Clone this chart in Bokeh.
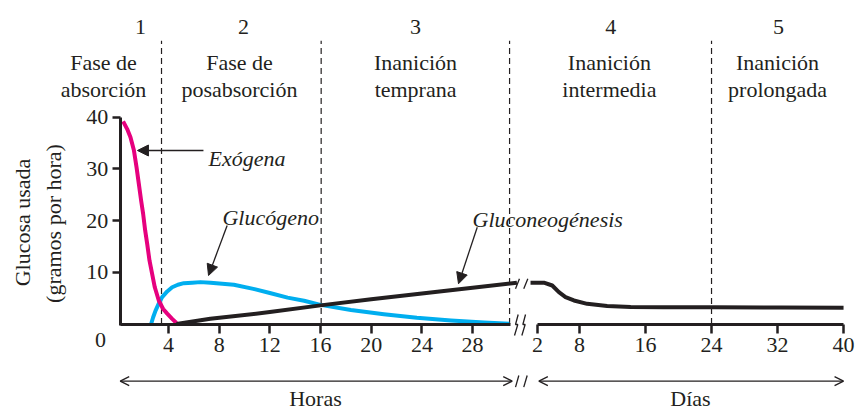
import math
import numpy as np
from bokeh.plotting import figure
from bokeh.models import (Label, Arrow, NormalHead, OpenHead, FixedTicker,
                          Range1d, LinearAxis)
from bokeh.embed import file_html
from bokeh.resources import INLINE

# ---------------- data ----------------
exo_hours = [0.42, 0.74, 1.0, 1.27, 1.48, 1.66, 1.84, 2.0, 2.16, 2.32, 2.5,
             2.71, 2.92, 3.24, 3.58, 3.9, 4.29, 4.63]
exo_vals = [39.2, 37.7, 36.1, 33.6, 30.3, 27.1, 23.9, 21.3, 18.1, 15.5, 12.3,
            9.7, 7.1, 4.5, 2.9, 2.0, 1.0, 0.2]

glyc_hours = [2.63, 2.79, 2.98, 3.24, 3.5, 3.9, 4.29, 4.74, 5.21, 5.87, 6.53,
              7.32, 9.16, 10.7, 12.0, 13.4, 14.7, 16.0, 18.4, 21.0, 23.6,
              26.3, 28.9, 30.9]
glyc_vals = [0.0, 1.3, 2.6, 4.0, 5.2, 6.3, 7.1, 7.6, 7.9, 8.0, 8.1, 8.0, 7.6,
             6.8, 6.0, 5.1, 4.5, 3.7, 2.7, 1.9, 1.2, 0.7, 0.3, 0.05]

gneo_hours = [4.63, 7.3, 12.0, 16.0, 20.0, 24.0, 28.0, 31.5]
gneo_hour_vals = [0.0, 1.0, 2.3, 3.6, 4.8, 5.9, 7.0, 8.0]

gneo_days = [1.0, 2.9, 4.1, 5.05, 6.0, 7.2, 8.93, 11.35, 14.2, 18.2, 24.3,
             32.4, 40.0]
gneo_day_vals = [8.0, 8.0, 7.45, 6.15, 5.2, 4.55, 3.9, 3.5, 3.3, 3.25, 3.25,
                 3.2, 3.13]

hour_ticks = [4, 8, 12, 16, 20, 24, 28]
day_ticks = [2, 8, 16, 24, 32, 40]
y_ticks = [10, 20, 30, 40]

phase_nums = ["1", "2", "3", "4", "5"]
phase_line1 = ["Fase de", "Fase de", "Inanición", "Inanición", "Inanición"]
phase_line2 = ["absorción", "posabsorción", "temprana", "intermedia", "prolongada"]
phase_bound_hours = [3.45, 16.05, 30.92]
phase_bound_days = [24]

# ---------------- broken axis: days placed after the hours ----------------
DAY_KNOTS = [0, 2, 8, 40]
DAY_POS = [32.02, 33.13, 36.44, 57.28]


def day_x(d):
    return np.interp(d, DAY_KNOTS, DAY_POS)


INK = "#231F20"
MAGENTA = "#E6007E"
CYAN = "#00AEEF"
FONT = "Liberation Serif"
FS = "22px"
Y_AXIS_X = 0.19
HOURS_END = 30.97
CURVE_W = 4

p = figure(width=867, height=410, x_range=Range1d(-9.258, 59.17),
           y_range=Range1d(-16.73, 62.57), output_backend="svg",
           toolbar_location=None, min_border=0, min_border_left=0,
           min_border_right=0, min_border_top=0, min_border_bottom=0)
p.title.visible = False
p.outline_line_color = None
p.xgrid.visible = False
p.ygrid.visible = False
p.background_fill_color = "white"
p.border_fill_color = "white"


def style_axis(ax):
    ax.axis_line_width = 3
    ax.axis_line_color = INK
    ax.major_tick_in = 0
    ax.major_tick_line_width = 2.5
    ax.major_tick_line_color = INK
    ax.minor_tick_line_color = None
    ax.major_label_text_font = FONT
    ax.major_label_text_font_size = FS
    ax.major_label_text_color = INK


# hours axis
xa = p.xaxis[0]
style_axis(xa)
xa.fixed_location = 0
xa.ticker = FixedTicker(ticks=hour_ticks)
xa.bounds = (Y_AXIS_X, HOURS_END)
xa.major_tick_out = 9
xa.major_label_standoff = 5

# days axis
day_tick_pos = [round(float(day_x(d)), 4) for d in day_ticks]
da = LinearAxis(fixed_location=0, ticker=FixedTicker(ticks=day_tick_pos),
                major_label_overrides={pos: str(d) for pos, d in
                                       zip(day_tick_pos, day_ticks)},
                bounds=(day_tick_pos[0], day_tick_pos[-1]))
style_axis(da)
da.major_tick_out = 9
da.major_label_standoff = 5
p.add_layout(da, "below")

# y axis
ya = p.yaxis[0]
style_axis(ya)
ya.fixed_location = Y_AXIS_X
ya.ticker = FixedTicker(ticks=y_ticks)
ya.bounds = (-0.29, 40)
ya.major_tick_out = 8
ya.major_label_standoff = 4

# phase boundaries
bx = list(phase_bound_hours) + [float(day_x(d)) for d in phase_bound_days]
p.segment(x0=bx, y0=[0] * len(bx), x1=bx, y1=[54.8] * len(bx),
          line_width=1.2, line_color=INK, line_dash="6 4")

# curves
p.line(glyc_hours, glyc_vals, line_width=CURVE_W, line_color=CYAN, line_join="round")
p.line(exo_hours, exo_vals, line_width=CURVE_W, line_color=MAGENTA, line_join="round")
p.line(gneo_hours, gneo_hour_vals, line_width=CURVE_W, line_color=INK,
       line_join="round")
p.line(list(day_x(gneo_days)), gneo_day_vals, line_width=CURVE_W, line_color=INK,
       line_join="round")

# break slashes on the curve, zigzags on the axis, slashes between arrows
p.segment(x0=[31.39, 32.04], y0=[6.81, 6.81], x1=[31.70, 32.36], y1=[8.74, 8.74],
          line_width=1.3, line_color=INK)
p.multi_line(xs=[[31.60, 31.39, 31.57, 31.31], [32.18, 31.97, 32.15, 31.89]],
             ys=[[1.84, -0.10, -0.10, -2.22], [1.84, -0.10, -0.10, -2.22]],
             line_width=1.3, line_color=INK)
p.segment(x0=[31.39, 32.04], y0=[-12.22, -12.22], x1=[31.65, 32.31],
          y1=[-9.96, -9.96], line_width=1.3, line_color=INK)

# annotation arrows to the curves
for xs, ys, xe, ye in [(6.76, 33.56, 1.55, 33.56),
                       (8.63, 19.05, 7.16, 9.38),
                       (28.37, 18.72, 26.89, 7.78)]:
    p.add_layout(Arrow(end=NormalHead(size=11, fill_color=INK, line_color=INK,
                                      line_width=1),
                       x_start=xs, y_start=ys, x_end=xe, y_end=ye,
                       line_width=1.3, line_color=INK))

# bottom double arrows
for xs, xe in [(Y_AXIS_X, 31.13), (33.23, 57.28)]:
    p.add_layout(Arrow(start=OpenHead(size=9, line_width=1.3, line_color=INK),
                       end=OpenHead(size=9, line_width=1.3, line_color=INK),
                       x_start=xs, y_start=-11.06, x_end=xe, y_end=-11.06,
                       line_width=1.3, line_color=INK))


def label(x, y, text, align="center", baseline="alphabetic", style="normal",
          angle=0.0):
    p.add_layout(Label(x=x, y=y, text=text, text_font=FONT,
                       text_font_size=FS, text_color=INK, text_align=align,
                       text_baseline=baseline, text_font_style=style,
                       angle=angle))


num_x = [1.79, 9.92, 23.5, 38.9, 52.15]
lab_x = [-1.13, 9.6, 23.5, 38.8, 52.07]
for i in range(5):
    label(num_x[i], 57.35, phase_nums[i])
    label(lab_x[i], 50.58, phase_line1[i])
    label(lab_x[i], 45.36, phase_line2[i])

label(7.16, 32.0, "Exógena", align="left", style="italic")
label(8.26, 20.6, "Glucógeno", align="left", style="italic")
label(28.0, 20.2, "Gluconeogénesis", align="left", style="italic")

label(-1.37, -3.19, "0", baseline="middle")
label(-7.55, 19.63, "Glucosa usada", baseline="middle", angle=math.pi / 2)
label(-5.1, 19.44, "(gramos por hora)", baseline="middle", angle=math.pi / 2)

label(15.6, -14.4, "Horas", baseline="middle")
label(45.2, -14.4, "Días", baseline="middle")

open("out.html", "w").write(file_html(p, INLINE))
